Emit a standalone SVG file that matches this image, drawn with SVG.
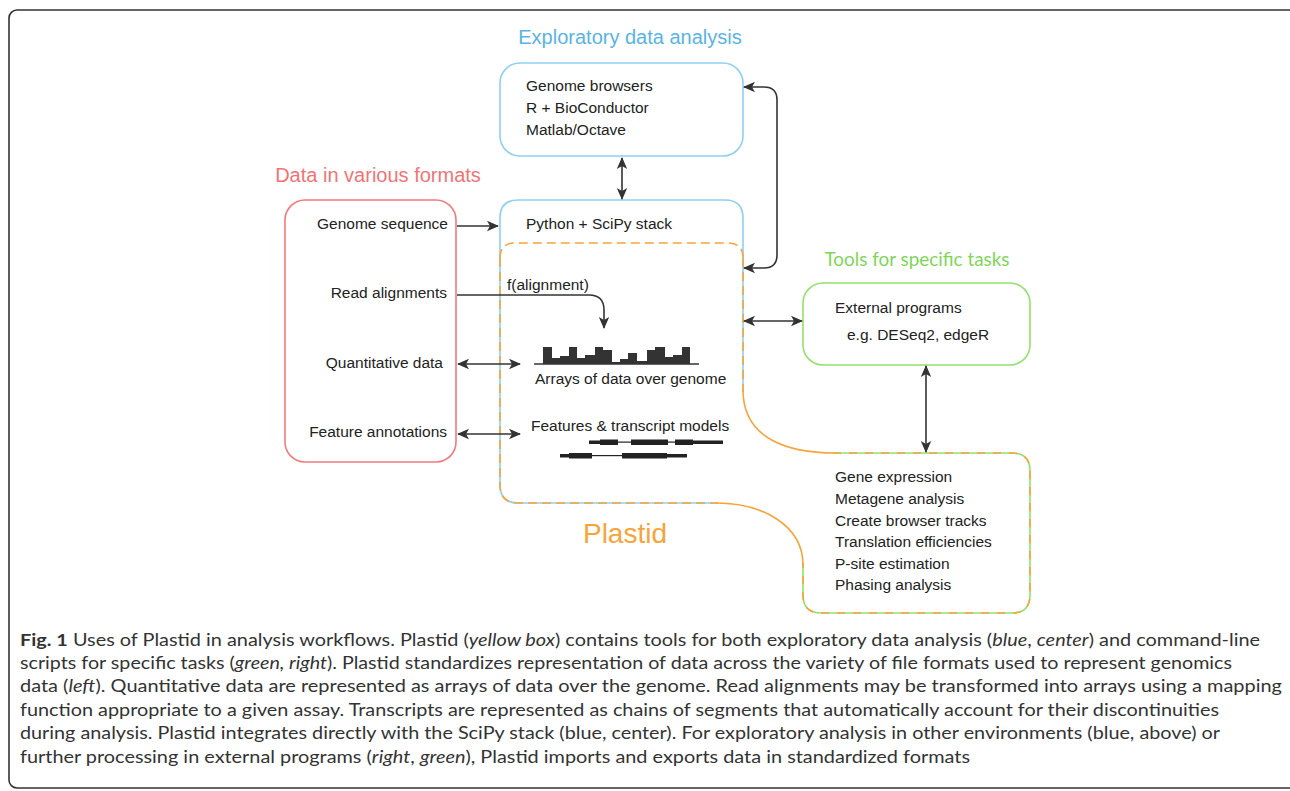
<svg xmlns="http://www.w3.org/2000/svg" width="1290" height="791" viewBox="0 0 1290 791">
<defs>
<style>
.t{font-family:"Liberation Sans",Arial,sans-serif;font-size:15.5px;fill:#222}
.title{font-family:"Liberation Sans",Arial,sans-serif;font-size:20px}
.cap{font-family:Lato,"Open Sans",sans-serif;font-size:17px;fill:#333}
.conn{fill:none;stroke:#333;stroke-width:1.6}
.blue{fill:none;stroke:#8ecff5;stroke-width:1.6}
.org{fill:none;stroke:#f7a43e;stroke-width:1.6}
.grn{fill:none;stroke:#95e06c;stroke-width:1.6}
</style>
<marker id="ah" viewBox="0 0 12 12" refX="11" refY="6" markerWidth="12" markerHeight="12" markerUnits="userSpaceOnUse" orient="auto-start-reverse">
<path d="M0,0.8 L12,6 L0,11.2 L3,6 Z" fill="#333"/>
</marker>
</defs>
<rect x="0" y="0" width="1290" height="791" fill="#fff"/>
<rect x="9" y="10" width="1290" height="778" rx="8" fill="none" stroke="#333" stroke-width="1.6"/>

<!-- Exploratory -->
<g id="exploratory">
<text class="title" x="630" y="44" text-anchor="middle" fill="#5ab3e4">Exploratory data analysis</text>
<rect x="500" y="63" width="243" height="93" rx="20" class="blue"/>
<text class="t" x="526" y="91">Genome browsers</text>
<text class="t" x="526" y="113">R + BioConductor</text>
<text class="t" x="526" y="135">Matlab/Octave</text>
</g>

<!-- Data formats -->
<g id="data-formats">
<text class="title" x="378" y="182" text-anchor="middle" fill="#f07476">Data in various formats</text>
<rect x="285" y="200" width="171" height="262" rx="20" fill="none" stroke="#f27a7c" stroke-width="1.6"/>
<text class="t" x="448" y="229" text-anchor="end">Genome sequence</text>
<text class="t" x="447" y="298" text-anchor="end">Read alignments</text>
<text class="t" x="443" y="368" text-anchor="end">Quantitative data</text>
<text class="t" x="447" y="437" text-anchor="end">Feature annotations</text>
</g>

<!-- Python + Plastid -->
<g id="python-plastid">
<path class="blue" d="M500,258 V218 Q500,200 518,200 H725 Q743,200 743,218 V258"/>
<path class="blue" d="M743,258 V392"/>
<path class="blue" d="M500,258 V485 Q500,503 518,503 H718"/>
<path class="org" stroke-dasharray="9 5" d="M743,258 V392"/>
<path class="org" stroke-dasharray="9 5" d="M500,258 V485 Q500,503 518,503 H718"/>
<path class="org" stroke-dasharray="9 5" d="M500,258 Q500,243 515,243 H728 Q743,243 743,258"/>
<path class="org" d="M743,390 C743,440 790,453 835,453"/>
<path class="org" d="M716,503 C762,503 803,525 803,565"/>
<text class="t" x="526" y="229">Python + SciPy stack</text>
<text x="625" y="543" text-anchor="middle" font-family="Liberation Sans,Arial,sans-serif" font-size="28" fill="#f7a43a">Plastid</text>
</g>

<g id="arrays">
<line x1="534" y1="364" x2="699" y2="364" stroke="#333" stroke-width="1.5"/>
<g fill="#333">
<rect x="543" y="347" width="9" height="17"/>
<rect x="552" y="358" width="8" height="6"/>
<rect x="560" y="356" width="9" height="8"/>
<rect x="569" y="347" width="8" height="17"/>
<rect x="577" y="358" width="8" height="6"/>
<rect x="585" y="355" width="10" height="9"/>
<rect x="595" y="347" width="8" height="17"/>
<rect x="603" y="350" width="9" height="14"/>
<rect x="612" y="362" width="8" height="2"/>
<rect x="620" y="359" width="8" height="5"/>
<rect x="628" y="353" width="9" height="11"/>
<rect x="637" y="361" width="10" height="3"/>
<rect x="647" y="350" width="8" height="14"/>
<rect x="655" y="347" width="10" height="17"/>
<rect x="665" y="357" width="8" height="7"/>
<rect x="673" y="355" width="9" height="9"/>
<rect x="682" y="347" width="8" height="17"/>
</g>
<text class="t" x="535" y="384">Arrays of data over genome</text>
</g>

<g id="transcripts">
<text class="t" x="531" y="431">Features &amp; transcript models</text>
<g fill="#222">
<rect x="589" y="441.5" width="134" height="1.2"/>
<rect x="589" y="440.5" width="11" height="3.5"/>
<rect x="600" y="439.5" width="18" height="5.5"/>
<rect x="631" y="439.5" width="37" height="5.5"/>
<rect x="675" y="439.5" width="18" height="5.5"/>
<rect x="693" y="440.5" width="30" height="3.5"/>
<rect x="560" y="455" width="127" height="1.2"/>
<rect x="560" y="454" width="9" height="3.5"/>
<rect x="569" y="453" width="23" height="5.5"/>
<rect x="622" y="453" width="45" height="5.5"/>
<rect x="667" y="454" width="20" height="3.5"/>
</g>
</g>

<!-- Tools -->
<g id="tools">
<text x="917" y="266" text-anchor="middle" font-family="Lato,'Open Sans',sans-serif" font-size="19" fill="#7fd55a" textLength="185" lengthAdjust="spacingAndGlyphs">Tools for specific tasks</text>
<rect x="803" y="283" width="227" height="82" rx="20" class="grn"/>
<text class="t" x="835" y="313">External programs</text>
<text class="t" x="847" y="339.5">e.g. DESeq2, edgeR</text>
</g>

<g id="scripts">
<path class="grn" d="M833,453 H1012 Q1030,453 1030,471 V595 Q1030,613 1012,613 H821 Q803,613 803,595 V563"/>
<path class="org" stroke-dasharray="8 8" d="M833,453 H1012 Q1030,453 1030,471 V595 Q1030,613 1012,613 H821 Q803,613 803,595 V563"/>
<text class="t" x="835" y="482">Gene expression</text>
<text class="t" x="835" y="504">Metagene analysis</text>
<text class="t" x="835" y="525.5">Create browser tracks</text>
<text class="t" x="835" y="547">Translation efficiencies</text>
<text class="t" x="835" y="568.5">P-site estimation</text>
<text class="t" x="835" y="590">Phasing analysis</text>
</g>

<!-- Connectors -->
<g id="connectors">
<path class="conn" d="M622,158 V199" marker-start="url(#ah)" marker-end="url(#ah)"/>
<path class="conn" d="M744,87 H764 Q777,87 777,100 V255 Q777,268 764,268 H744" marker-start="url(#ah)" marker-end="url(#ah)"/>
<path class="conn" d="M457,226 H498" marker-end="url(#ah)"/>
<path class="conn" d="M457,295 H589 Q604,295 604,310 V328" marker-end="url(#ah)"/>
<text class="t" x="507" y="290">f(alignment)</text>
<path class="conn" d="M458,364 H520" marker-start="url(#ah)" marker-end="url(#ah)"/>
<path class="conn" d="M458,434 H520" marker-start="url(#ah)" marker-end="url(#ah)"/>
<path class="conn" d="M744,321 H802" marker-start="url(#ah)" marker-end="url(#ah)"/>
<path class="conn" d="M926,366 V452" marker-start="url(#ah)" marker-end="url(#ah)"/>
</g>

<!-- Caption -->
<g id="caption" class="cap">
<text x="20" y="646" textLength="1240" lengthAdjust="spacingAndGlyphs"><tspan font-weight="bold">Fig. 1</tspan> Uses of Plastid in analysis workflows. Plastid (<tspan font-style="italic">yellow box</tspan>) contains tools for both exploratory data analysis (<tspan font-style="italic">blue</tspan>, <tspan font-style="italic">center</tspan>) and command-line</text>
<text x="20" y="669" textLength="1212" lengthAdjust="spacingAndGlyphs">scripts for specific tasks (<tspan font-style="italic">green, right</tspan>). Plastid standardizes representation of data across the variety of file formats used to represent genomics</text>
<text x="20" y="692" textLength="1262" lengthAdjust="spacingAndGlyphs">data (<tspan font-style="italic">left</tspan>). Quantitative data are represented as arrays of data over the genome. Read alignments may be transformed into arrays using a mapping</text>
<text x="20" y="716" textLength="1199" lengthAdjust="spacingAndGlyphs">function appropriate to a given assay. Transcripts are represented as chains of segments that automatically account for their discontinuities</text>
<text x="20" y="739" textLength="1200" lengthAdjust="spacingAndGlyphs">during analysis. Plastid integrates directly with the SciPy stack (blue, center). For exploratory analysis in other environments (blue, above) or</text>
<text x="20" y="763" textLength="950" lengthAdjust="spacingAndGlyphs">further processing in external programs (<tspan font-style="italic">right</tspan>, <tspan font-style="italic">green</tspan>), Plastid imports and exports data in standardized formats</text>
</g>
</svg>
